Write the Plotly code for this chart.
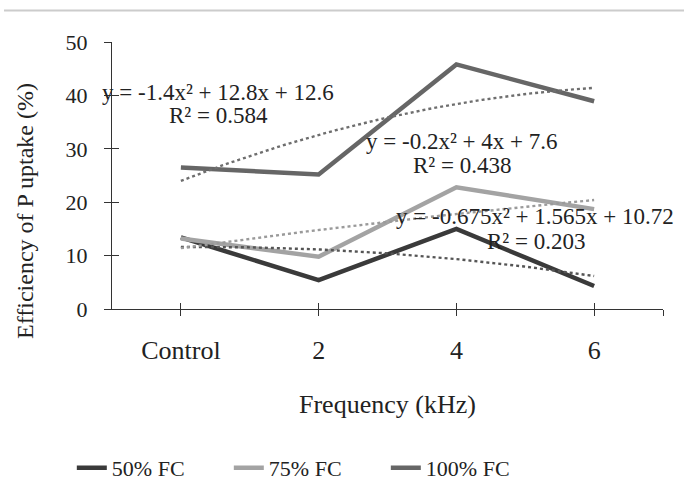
import numpy as np
import plotly.graph_objects as go

categories = ["Control", "2", "4", "6"]
fc50 = [13.4, 5.4, 15.0, 4.3]
fc75 = [13.2, 9.8, 22.8, 18.7]
fc100 = [26.5, 25.2, 45.8, 38.9]
series_names = ["50% FC", "75% FC", "100% FC"]
series_colors = ["#3a3a3a", "#a3a3a3", "#666666"]

# polynomial trend coefficients (a, b, c) for y = a x^2 + b x + c, x = 1..4
trend50 = [-0.675, 1.565, 10.72]
trend75 = [-0.2, 4.0, 7.6]
trend100 = [-1.4, 12.8, 12.6]
eq_texts = ["y = -0.675x² + 1.565x + 10.72", "y = -0.2x² + 4x + 7.6", "y = -1.4x² + 12.8x + 12.6"]
r2_texts = ["R² = 0.203", "R² = 0.438", "R² = 0.584"]
y_ticks = [0, 10, 20, 30, 40, 50]

SERIF = "Liberation Serif, Times New Roman, serif"
TXT = "#222222"
xpos = list(range(len(categories)))
x_end = len(categories) - 0.5

fig = go.Figure()
data = [fc50, fc75, fc100]
for name, vals, col in zip(series_names, data, series_colors):
    fig.add_trace(go.Scatter(x=xpos, y=vals, mode="lines", name=name,
                             line=dict(color=col, width=4.5)))

xd = np.linspace(0, len(categories) - 1, 60)
for coefs, col in zip([trend50, trend75, trend100], ["#555555", "#9a9a9a", "#6e6e6e"]):
    a, b, c = coefs
    t = xd + 1
    fig.add_trace(go.Scatter(x=xd, y=a * t ** 2 + b * t + c, mode="lines", showlegend=False,
                             hoverinfo="skip", line=dict(color=col, width=2.4, dash="dot")))

# invisible trace to activate overlay axes (for crossing ticks)
fig.add_trace(go.Scatter(x=[0], y=[0], xaxis="x2", yaxis="y2", mode="markers",
                         marker=dict(opacity=0), showlegend=False, hoverinfo="skip"))

axis_col = "#333333"
fig.update_layout(
    width=684, height=491,
    margin=dict(l=112, r=21, t=42, b=182, autoexpand=False),
    paper_bgcolor="white", plot_bgcolor="white",
    font=dict(family=SERIF, color=TXT),
    xaxis=dict(range=[-0.5, x_end], tickvals=xpos + [x_end], ticktext=categories + [""],
               showgrid=False, zeroline=False, showline=True, linecolor=axis_col, linewidth=1.3,
               ticks="outside", ticklen=6, tickcolor=axis_col, tickwidth=1.3,
               ticklabelstandoff=12,
               tickfont=dict(family=SERIF, size=26, color=TXT)),
    yaxis=dict(range=[0, 50], tickvals=y_ticks, showgrid=False, zeroline=False,
               showline=True, linecolor=axis_col, linewidth=1.3,
               ticks="outside", ticklen=7, tickcolor=axis_col, tickwidth=1.3,
               ticklabelstandoff=12,
               tickfont=dict(family=SERIF, size=22, color=TXT)),
    xaxis2=dict(range=[-0.5, x_end], tickvals=xpos + [x_end], overlaying="x", showgrid=False,
                zeroline=False, showline=False, showticklabels=False,
                ticks="inside", ticklen=6, tickcolor=axis_col, tickwidth=1.3),
    yaxis2=dict(range=[0, 50], tickvals=y_ticks, overlaying="y", showgrid=False,
                zeroline=False, showline=False, showticklabels=False,
                ticks="inside", ticklen=7, tickcolor=axis_col, tickwidth=1.3),
    legend=dict(orientation="h", x=0.105, xanchor="left", xref="container",
                y=0.047, yanchor="middle", yref="container",
                font=dict(family=SERIF, size=22, color=TXT),
                entrywidth=112, entrywidthmode="pixels"),
    showlegend=True,
)

# equation annotations (data coordinates)
eq_pos = [(2.57, 17.3), (2.04, 31.4), (0.27, 40.5)]
r2_pos = [(2.58, 12.6), (2.04, 26.8), (0.27, 36.3)]
for txt, (x, y) in zip(eq_texts, eq_pos):
    fig.add_annotation(x=x, y=y, text=txt, showarrow=False, xref="x", yref="y",
                       xanchor="center", yanchor="middle",
                       font=dict(family=SERIF, size=23, color=TXT))
for txt, (x, y) in zip(r2_texts, r2_pos):
    fig.add_annotation(x=x, y=y, text=txt, showarrow=False, xref="x", yref="y",
                       xanchor="center", yanchor="middle",
                       font=dict(family=SERIF, size=23, color=TXT))

# axis titles
fig.add_annotation(text="Frequency (kHz)", x=0.5, y=-0.358, xref="paper", yref="paper",
                   xanchor="center", yanchor="middle",
                   showarrow=False, font=dict(family=SERIF, size=26, color=TXT))
fig.add_annotation(text="Efficiency of P uptake (%)", x=-0.158, y=0.367, xref="paper", yref="paper",
                   xanchor="center", yanchor="middle",
                   showarrow=False, textangle=-90, font=dict(family=SERIF, size=24, color=TXT))

# faint top rule
fig.add_shape(type="line", xref="paper", yref="paper", x0=-0.196, x1=1.04, y0=1.118, y1=1.118,
              line=dict(color="#cccccc", width=2))

fig.write_html("out.html")
